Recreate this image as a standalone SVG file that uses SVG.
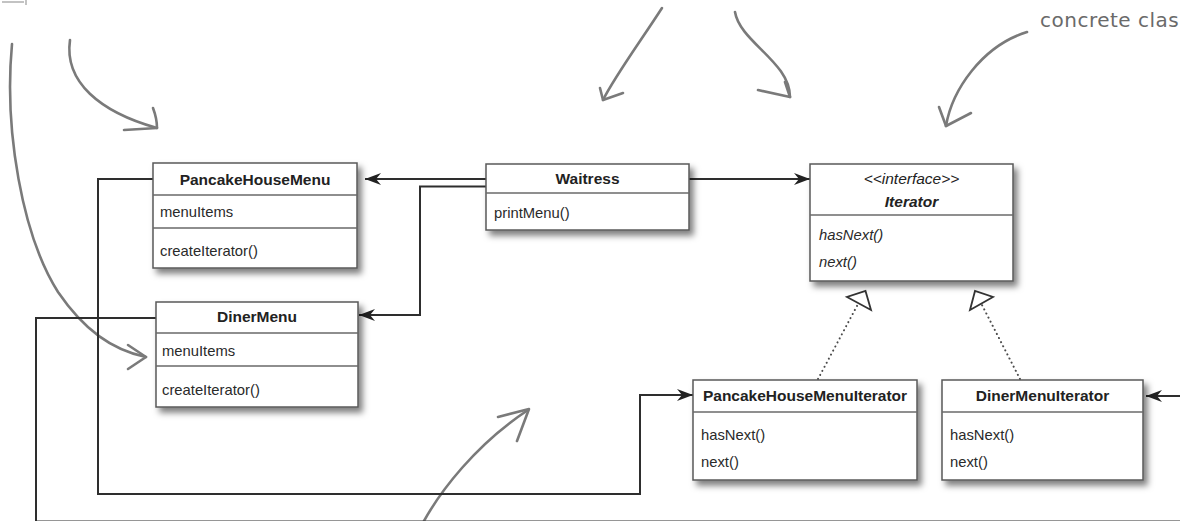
<svg xmlns="http://www.w3.org/2000/svg" width="1180" height="521" viewBox="0 0 1180 521">
  <style>
    .box { fill: #ffffff; stroke: #5a5a5a; stroke-width: 1.5; filter: url(#shadow); }
    .div { stroke: #6a6a6a; stroke-width: 1.5; fill: none; }
    .title { font-family: "Liberation Sans", Arial, sans-serif; font-weight: bold; font-size: 15.5px; fill: #222; text-anchor: middle; }
    .stereo { font-weight: normal; }
    .item { font-family: "Liberation Sans", Arial, sans-serif; font-size: 14.8px; fill: #2a2a2a; }
    .ital { font-style: italic; }
    .conn { fill: none; stroke: #2e2e2e; stroke-width: 2; }
    .dots { fill: none; stroke: #4a4a4a; stroke-width: 2; stroke-dasharray: 0.1 4.5; stroke-linecap: round; }
    .tri { fill: #ffffff; stroke: #333; stroke-width: 1.8; stroke-linejoin: miter; }
    .hand { fill: none; stroke: #7a7a7a; stroke-width: 2.6; stroke-linecap: round; stroke-linejoin: round; }
    .note { font-family: "DejaVu Sans", "Liberation Sans", sans-serif; font-size: 20px; fill: #6a6a6a; letter-spacing: 0.5px; }
  </style>
  <defs>
    <filter id="shadow" x="-10%" y="-15%" width="130%" height="150%">
      <feDropShadow dx="4" dy="5" stdDeviation="3" flood-color="#000" flood-opacity="0.5"/>
    </filter>
    <marker id="arrow" viewBox="-16 -7 17 14" refX="0" refY="0" markerWidth="17" markerHeight="14" markerUnits="userSpaceOnUse" orient="auto">
      <path d="M0,0 L-16,-6 L-11,0 L-16,6 Z" fill="#222"/>
    </marker>
  </defs>

  <rect width="1180" height="521" fill="#ffffff"/>

  <!-- handwritten annotations -->
  <g id="annotations">
    <path d="M26,0 V5 M2,2 H24" fill="none" stroke="#b0b0b0" stroke-width="1.5"/>
    <text class="note" x="1040" y="27">concrete clas</text>
    <path class="hand" d="M12,44 C4,130 22,235 58,292 C84,330 112,350 146,357"/>
    <path class="hand" d="M128,345 L146,357 L128,369"/>
    <path class="hand" d="M70,40 C64,82 100,112 157,128"/>
    <path class="hand" d="M153,108 C156,116 157,122 157,128 L124,130"/>
    <path class="hand" d="M662,8 C640,42 615,76 603,100"/>
    <path class="hand" d="M600,88 L603,100 L623,93"/>
    <path class="hand" d="M735,12 C740,42 790,62 790,97"/>
    <path class="hand" d="M785,82 L790,97 L758,90"/>
    <path class="hand" d="M1027,32 C982,46 952,90 946,126"/>
    <path class="hand" d="M939,107 L946,126 L971,113"/>
    <path class="hand" d="M424,521 C440,492 475,445 528,410"/>
    <path class="hand" d="M498,417 L529,409 L517,441"/>
  </g>

  <!-- connectors -->
  <g id="connectors">
    <path class="conn" d="M486,179 H365" marker-end="url(#arrow)"/>
    <path class="conn" d="M486,186.5 H420 V315 H359" marker-end="url(#arrow)"/>
    <path class="conn" d="M689,179 H810" marker-end="url(#arrow)"/>
    <path class="conn" d="M153,179 H98 V494 H640 V395 H693" marker-end="url(#arrow)"/>
    <path class="conn" d="M156,318 H36 V521.5 H1195 V396 H1146" marker-end="url(#arrow)"/>
    <path class="dots" d="M818,379 L858,304"/>
    <polygon class="tri" points="847,297 871,310 865.5,291"/>
    <path class="dots" d="M1020,379 L982,305"/>
    <polygon class="tri" points="970,310 993,297 975,291"/>
  </g>

  <g id="PancakeHouseMenu">
    <rect class="box" x="153" y="163" width="204" height="105"/>
    <path class="div" d="M153,195 H357 M153,228 H357"/>
    <text class="title" x="255" y="185">PancakeHouseMenu</text>
    <text class="item" x="160" y="217">menuItems</text>
    <text class="item" x="160" y="256">createIterator()</text>
  </g>

  <g id="DinerMenu">
    <rect class="box" x="156" y="302" width="202" height="105"/>
    <path class="div" d="M156,333 H358 M156,366 H358"/>
    <text class="title" x="257" y="322">DinerMenu</text>
    <text class="item" x="162" y="356">menuItems</text>
    <text class="item" x="162" y="395">createIterator()</text>
  </g>

  <g id="Waitress">
    <rect class="box" x="486" y="164" width="203" height="66"/>
    <path class="div" d="M486,193 H689"/>
    <text class="title" x="587.5" y="184">Waitress</text>
    <text class="item" x="494" y="218">printMenu()</text>
  </g>

  <g id="Iterator">
    <rect class="box" x="810" y="164" width="203" height="117"/>
    <path class="div" d="M810,215 H1013"/>
    <text class="title ital stereo" x="911.5" y="184">&lt;&lt;interface&gt;&gt;</text>
    <text class="title ital" x="911.5" y="207">Iterator</text>
    <text class="item ital" x="819" y="240">hasNext()</text>
    <text class="item ital" x="819" y="267">next()</text>
  </g>

  <g id="PancakeHouseMenuIterator">
    <rect class="box" x="693" y="380" width="224" height="100"/>
    <path class="div" d="M693,412 H917"/>
    <text class="title" x="805" y="401">PancakeHouseMenuIterator</text>
    <text class="item" x="701" y="440">hasNext()</text>
    <text class="item" x="701" y="467">next()</text>
  </g>

  <g id="DinerMenuIterator">
    <rect class="box" x="942" y="380" width="201" height="100"/>
    <path class="div" d="M942,412 H1143"/>
    <text class="title" x="1042.5" y="401">DinerMenuIterator</text>
    <text class="item" x="950" y="440">hasNext()</text>
    <text class="item" x="950" y="467">next()</text>
  </g>
</svg>
